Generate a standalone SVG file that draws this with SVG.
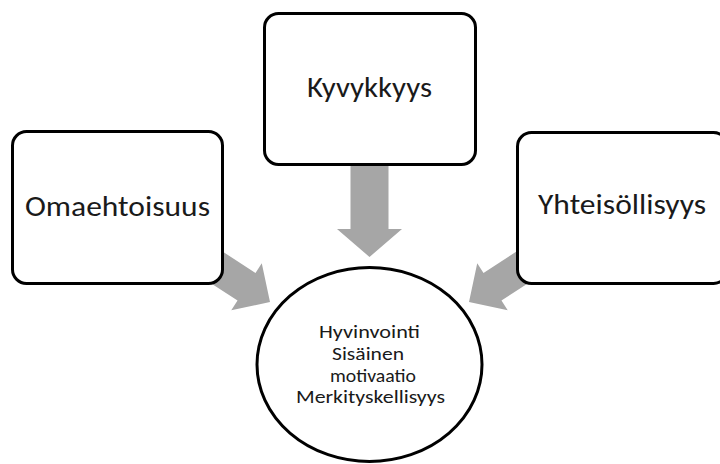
<svg xmlns="http://www.w3.org/2000/svg" xmlns:xlink="http://www.w3.org/1999/xlink" width="720" height="464" viewBox="0 0 720 464">
  <style>
    .box { fill: #ffffff; stroke: #000000; stroke-width: 3; }
    .arrow { fill: #a6a6a6; stroke: none; }
    .lbl { font-family: Carlito, Lato, "Noto Sans", sans-serif; font-size: 28px; fill: #1a1a1a; text-anchor: middle; }
    .clbl { font-family: Carlito, Lato, "Noto Sans", sans-serif; font-size: 18px; fill: #1a1a1a; text-anchor: middle; }
  </style>
  <defs>
    <polygon id="diagArrow" points="-110,-16.5 -28,-16.5 -28,-28 0,0 -28,28 -28,16.5 -110,16.5"/>
  </defs>
  <rect width="720" height="464" fill="#ffffff"/>
  <g id="connectors">
    <polygon class="arrow" points="350.5,150 388.5,150 388.5,229 402,229 369.5,257 337,229 350.5,229"/>
    <use class="arrow" xlink:href="#diagArrow" href="#diagArrow" transform="translate(270,302) rotate(33)"/>
    <use class="arrow" xlink:href="#diagArrow" href="#diagArrow" transform="translate(469,302) rotate(147)"/>
  </g>
  <g id="omaehtoisuus">
    <rect class="box" x="12.5" y="131.5" width="210" height="152" rx="14"/>
    <text class="lbl" x="117.5" y="216" textLength="185" lengthAdjust="spacingAndGlyphs">Omaehtoisuus</text>
  </g>
  <g id="kyvykkyys">
    <rect class="box" x="264.5" y="13.5" width="211" height="151" rx="14"/>
    <text class="lbl" x="369.5" y="97" textLength="125" lengthAdjust="spacingAndGlyphs">Kyvykkyys</text>
  </g>
  <g id="yhteisollisyys">
    <rect class="box" x="517.5" y="132.5" width="210" height="151" rx="14"/>
    <text class="lbl" x="622" y="214" textLength="168" lengthAdjust="spacingAndGlyphs">Yhteisöllisyys</text>
  </g>
  <g id="keskus">
    <ellipse class="box" cx="369.5" cy="364.5" rx="112.5" ry="97" stroke-width="2.8"/>
    <text class="clbl" x="369.5" y="338" textLength="101" lengthAdjust="spacingAndGlyphs">Hyvinvointi</text>
    <text class="clbl" x="368" y="360" textLength="72" lengthAdjust="spacingAndGlyphs">Sisäinen</text>
    <text class="clbl" x="373" y="382" textLength="86" lengthAdjust="spacingAndGlyphs">motivaatio</text>
    <text class="clbl" x="370.5" y="403" textLength="149" lengthAdjust="spacingAndGlyphs">Merkityskellisyys</text>
  </g>
</svg>
